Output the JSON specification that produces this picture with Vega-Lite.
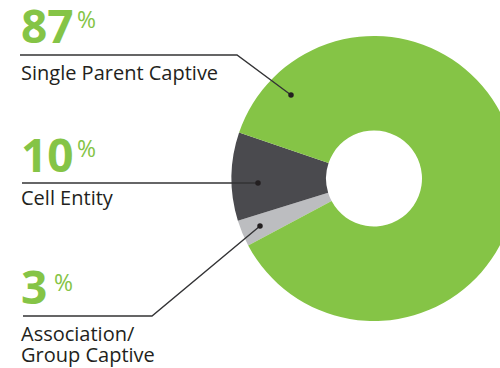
{
  "$schema": "https://vega.github.io/schema/vega-lite/v6.json",
  "width": 500,
  "height": 368,
  "padding": 0,
  "autosize": {"type": "none"},
  "background": "white",
  "config": {
    "view": {"stroke": null},
    "font": "Open Sans"
  },
  "datasets": {
    "slices": [
      {"category": "Association/Group Captive", "pct": 3, "ord": 1},
      {"category": "Cell Entity", "pct": 10, "ord": 2},
      {"category": "Single Parent Captive", "pct": 87, "ord": 3}
    ],
    "callouts": [
      {"category": "Single Parent Captive", "pct": 87, "name": ["Single Parent Captive"], "tx": 21, "numY": 43, "pctX": 77, "pctY": 28, "nameY": 80},
      {"category": "Cell Entity", "pct": 10, "name": ["Cell Entity"], "tx": 21, "numY": 172, "pctX": 77, "pctY": 157, "nameY": 205},
      {"category": "Association/Group Captive", "pct": 3, "name": ["Association/", "Group Captive"], "tx": 21, "numY": 304, "pctX": 54, "pctY": 291, "nameY": 341}
    ],
    "leaders": [
      {"category": "Single Parent Captive", "step": 1, "px": 20, "py": 55},
      {"category": "Single Parent Captive", "step": 2, "px": 237, "py": 55},
      {"category": "Single Parent Captive", "step": 3, "px": 291, "py": 95},
      {"category": "Cell Entity", "step": 1, "px": 22, "py": 183},
      {"category": "Cell Entity", "step": 2, "px": 258, "py": 183},
      {"category": "Association/Group Captive", "step": 1, "px": 23, "py": 316},
      {"category": "Association/Group Captive", "step": 2, "px": 152, "py": 316},
      {"category": "Association/Group Captive", "step": 3, "px": 260, "py": 226}
    ],
    "dots": [
      {"category": "Single Parent Captive", "px": 291, "py": 95},
      {"category": "Cell Entity", "px": 258, "py": 183},
      {"category": "Association/Group Captive", "px": 260, "py": 226}
    ]
  },
  "layer": [
    {
      "data": {"name": "slices"},
      "mark": {"type": "arc", "outerRadius": 142.5, "innerRadius": 48, "stroke": null},
      "encoding": {
        "x": {"datum": 374, "type": "quantitative", "scale": {"domain": [0, 500], "nice": false, "zero": false}, "axis": null},
        "y": {"datum": 178.5, "type": "quantitative", "scale": {"domain": [0, 368], "nice": false, "zero": false, "reverse": true}, "axis": null},
        "theta": {"field": "pct", "type": "quantitative", "stack": true, "scale": {"domain": [0, 100], "range": [4.2237, 10.5069]}},
        "order": {"field": "ord", "type": "quantitative"},
        "color": {
          "field": "category",
          "type": "nominal",
          "scale": {
            "domain": ["Single Parent Captive", "Cell Entity", "Association/Group Captive"],
            "range": ["#85c446", "#4a4a4e", "#bcbdc0"]
          },
          "legend": null
        }
      }
    },
    {
      "data": {"name": "leaders"},
      "mark": {"type": "line", "color": "#333335", "strokeWidth": 1.4, "interpolate": "linear"},
      "encoding": {
        "x": {"field": "px", "type": "quantitative"},
        "y": {"field": "py", "type": "quantitative"},
        "detail": {"field": "category"},
        "order": {"field": "step", "type": "quantitative"}
      }
    },
    {
      "data": {"name": "dots"},
      "mark": {"type": "point", "filled": true, "size": 30, "color": "#231f20", "opacity": 1},
      "encoding": {
        "x": {"field": "px", "type": "quantitative"},
        "y": {"field": "py", "type": "quantitative"}
      }
    },
    {
      "data": {"name": "callouts"},
      "mark": {"type": "text", "align": "left", "baseline": "alphabetic", "fontSize": 46, "fontWeight": "bold", "color": "#85c446"},
      "encoding": {
        "x": {"field": "tx", "type": "quantitative"},
        "y": {"field": "numY", "type": "quantitative"},
        "text": {"field": "pct", "type": "quantitative"}
      }
    },
    {
      "data": {"name": "callouts"},
      "mark": {"type": "text", "align": "left", "baseline": "alphabetic", "fontSize": 23, "fontWeight": "normal", "color": "#85c446", "text": "%"},
      "encoding": {
        "x": {"field": "pctX", "type": "quantitative"},
        "y": {"field": "pctY", "type": "quantitative"}
      }
    },
    {
      "data": {"name": "callouts"},
      "mark": {"type": "text", "align": "left", "baseline": "alphabetic", "fontSize": 20, "color": "#231f20", "lineHeight": 21},
      "encoding": {
        "x": {"field": "tx", "type": "quantitative"},
        "y": {"field": "nameY", "type": "quantitative"},
        "text": {"field": "name"}
      }
    }
  ]
}
